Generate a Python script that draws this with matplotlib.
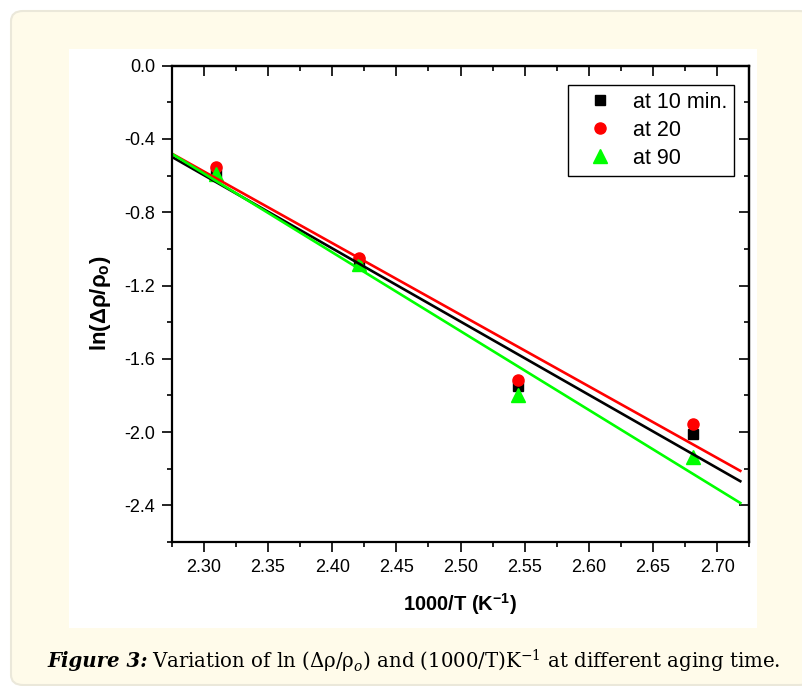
import numpy as np
import matplotlib
matplotlib.use("Agg")
import matplotlib.pyplot as plt
from matplotlib.patches import FancyBboxPatch, Rectangle
from matplotlib.ticker import MultipleLocator, FormatStrFormatter

plt.rcParams['font.family'] = ['Liberation Sans', 'DejaVu Sans']
plt.rcParams['axes.unicode_minus'] = False
plt.rcParams['mathtext.fontset'] = 'custom'
plt.rcParams['mathtext.rm'] = 'Liberation Sans:bold'
plt.rcParams['mathtext.it'] = 'Liberation Sans:bold'
plt.rcParams['mathtext.bf'] = 'Liberation Sans:bold'

# data
inv_T = [2.3095, 2.4213, 2.5445, 2.6810]
ln_10min = [-0.579, -1.070, -1.750, -2.013]
ln_20 = [-0.551, -1.047, -1.714, -1.954]
ln_90 = [-0.592, -1.080, -1.798, -2.137]
labels = ['at 10 min.', 'at 20', 'at 90']

fit_range = (2.275, 2.718)

W, H = 803, 686
fig = plt.figure(figsize=(W / 100, H / 100), dpi=100)
fig.patch.set_facecolor('white')

# cream panel and white plot area
panel = FancyBboxPatch((11 / W, 1 / H), 800 / W, 674 / H,
                       boxstyle="round,pad=0,rounding_size=0.015",
                       transform=fig.transFigure, facecolor='#fffbea',
                       edgecolor='#ebe8da', linewidth=1.5, zorder=-3)
fig.patches.append(panel)
fig.patches.append(Rectangle((69 / W, 1 - 628 / H), 688 / W, 579 / H,
                             transform=fig.transFigure, facecolor='white',
                             edgecolor='none', zorder=-2))

ax = fig.add_axes([171.7 / W, 1 - 542 / H, 577.6 / W, 476.3 / H])
ax.set_facecolor('white')

series = [(ln_10min, 'black', 's', 7), (ln_20, 'red', 'o', 8), (ln_90, '#00ff00', '^', 9.5)]
xs = np.array(inv_T)
xf = np.linspace(fit_range[0], fit_range[1], 50)
for (ys, c, m, ms), lab in zip(series, labels):
    ax.plot(xs, ys, linestyle='none', marker=m, color=c, markersize=ms, label=lab)
for ys, c, m, ms in series:
    k, b = np.polyfit(xs, ys, 1)
    ax.plot(xf, k * xf + b, color=c, linewidth=1.9)

ax.set_xlim(2.275, 2.725)
ax.set_ylim(-2.6, 0.0)
ax.xaxis.set_major_locator(MultipleLocator(0.05))
ax.xaxis.set_minor_locator(MultipleLocator(0.025))
ax.yaxis.set_major_locator(MultipleLocator(0.4))
ax.yaxis.set_minor_locator(MultipleLocator(0.2))
ax.xaxis.set_major_formatter(FormatStrFormatter('%.2f'))
ax.yaxis.set_major_formatter(FormatStrFormatter('%.1f'))

for s in ax.spines.values():
    s.set_linewidth(1.6)
ax.tick_params(which='both', direction='out', width=1.2, labelsize=13,
               colors='black')
ax.tick_params(which='major', length=7, pad=5)
ax.tick_params(which='minor', length=3.5)
sec_x = ax.secondary_xaxis('top')
sec_x.xaxis.set_major_locator(MultipleLocator(0.05))
sec_x.xaxis.set_minor_locator(MultipleLocator(0.025))
sec_x.tick_params(which='both', direction='in', width=1.2, labeltop=False)
sec_x.tick_params(which='major', length=7)
sec_x.tick_params(which='minor', length=3.5)
sec_y = ax.secondary_yaxis('right')
sec_y.yaxis.set_major_locator(MultipleLocator(0.4))
sec_y.yaxis.set_minor_locator(MultipleLocator(0.2))
sec_y.tick_params(which='both', direction='in', width=1.2, labelright=False)
sec_y.tick_params(which='major', length=7)
sec_y.tick_params(which='minor', length=3.5)
for sa in (sec_x, sec_y):
    for s in sa.spines.values():
        s.set_linewidth(1.6)

ax.set_xlabel('1000/T (K$^{-1}$)', fontsize=14.5, fontweight='bold', labelpad=11)
ax.set_ylabel(r'ln($\Delta\rho$/$\rho_o$)', fontsize=16, fontweight='bold', labelpad=8)

leg = ax.legend(loc='upper right', bbox_to_anchor=(0.9735, 0.9595), fontsize=15.5,
                frameon=True, fancybox=False, edgecolor='black', framealpha=1,
                borderpad=0.32, labelspacing=0.32, handletextpad=0.3,
                handlelength=2.4, borderaxespad=0)
leg.get_frame().set_linewidth(1.0)

# caption
t1 = fig.text(47 / W, 1 - 661 / H, 'Figure 3:', fontsize=14.2, family='DejaVu Serif',
              fontweight='bold', fontstyle='italic', va='center', ha='left')
fig.canvas.draw()
bb = t1.get_window_extent()
fig.text((bb.x1 + 5) / W, 1 - 661 / H,
         r'Variation of ln (Δρ/ρ$_{o}$) and (1000/T)K$^{-1}$ at different aging time.',
         fontsize=14.2, family='DejaVu Serif', va='center', ha='left',
         math_fontfamily='dejavuserif')

fig.savefig('out.png', dpi=100)
